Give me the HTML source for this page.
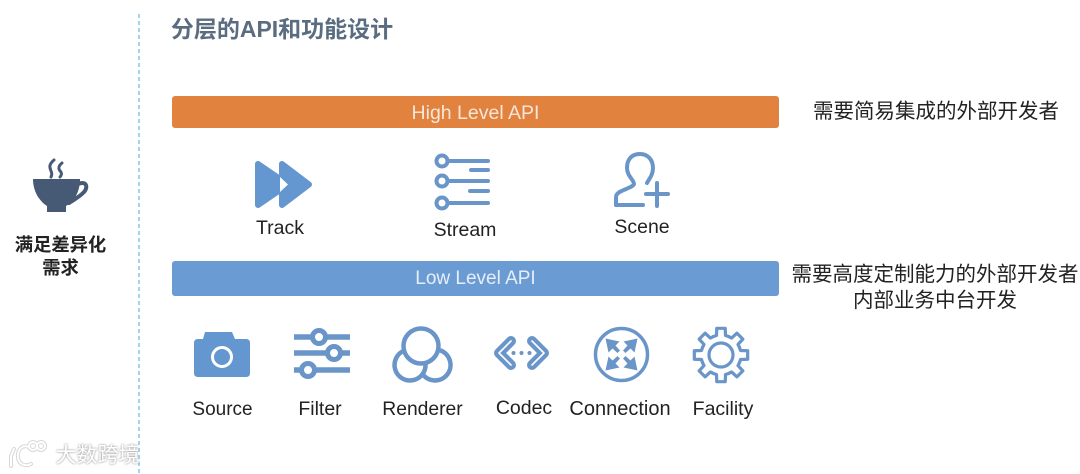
<!DOCTYPE html>
<html><head><meta charset="utf-8">
<style>
html,body{margin:0;padding:0;background:#fff}
#c{position:relative;width:1080px;height:474px;overflow:hidden;background:#fff;font-family:"Liberation Sans","Noto Sans CJK SC",sans-serif}
.t{position:absolute;white-space:nowrap;transform:translateX(-50%);line-height:1;color:#222}
.bar{position:absolute;left:172px;width:607px;border-radius:3px;color:#fff;text-align:center}
svg{position:absolute;left:0;top:0}
</style></head><body><div id="c">
<svg width="1080" height="474" viewBox="0 0 1080 474">
<line x1="139" y1="14" x2="139" y2="474" stroke="#a5d3ec" stroke-width="2" stroke-dasharray="4 3"/>
<!-- cup -->
<path d="M33 179H80C80 190 76 200 66 206V212H47V206C38 200 33 190 33 179Z" fill="#465a75"/>
<path d="M78 184C88 180 88 189 83 193C79 197 75 199 69 203" fill="none" stroke="#465a75" stroke-width="4" stroke-linecap="round"/>
<g fill="none" stroke="#465a75" stroke-width="3" stroke-linecap="round">
<path d="M54 160C48 165 50 168 51 171C52 173 52 175 51 177"/>
<path d="M62 163C57 167 59 170 61 172C62 174 61 176 60 177"/>
</g>
<!-- track -->
<g fill="#6497d0" stroke="#6497d0" stroke-width="6" stroke-linejoin="round">
<path d="M258 164V205L288 184.500Z"/>
<path d="M282 164V205L309 184.500Z"/>
</g>
<path d="M280 177L288 184.500L280 192Z" fill="#fff"/>
<!-- stream -->
<g fill="none" stroke="#6a95c9" stroke-width="4" stroke-linecap="round">
<circle cx="442" cy="161" r="5.500"/><circle cx="442" cy="181" r="5.500"/><circle cx="442" cy="203" r="5.500"/>
<path d="M448 161H488M471 170H488M448 181H488M470 191H488M448 203H488"/>
</g>
<!-- scene -->
<g fill="none" stroke="#6a95c9" stroke-width="4" stroke-linecap="round" stroke-linejoin="round">
<path d="M616 205V197C616 190 632 189 634 184C634 180 627 176 627 168C627 159 632 154 640 154C648 154 653 160 653 168C653 175 649 179 647 183"/>
<path d="M616 205H643M657 183V206M646 194H668"/>
</g>
<!-- source -->
<path d="M203 339L205 332H232L235 339H246Q250 339 250 343V373Q250 377 246 377H198Q194 377 194 373V343Q194 339 198 339Z" fill="#6497d0"/>
<circle cx="222" cy="357" r="9.500" fill="none" stroke="#fff" stroke-width="3"/>
<!-- filter -->
<g stroke="#6a95c9" stroke-width="5.500" fill="none">
<path d="M294 337H350M294 353H350M294 370H350"/>
<g stroke-width="5" fill="#fff"><circle cx="319" cy="337" r="6.500"/><circle cx="334" cy="353" r="6.500"/><circle cx="308" cy="370" r="6.500"/></g>
</g>
<!-- renderer -->
<g fill="none" stroke="#6a95c9" stroke-width="4.500">
<circle cx="421" cy="346" r="17.500"/>
<path d="M404 350.700A15.500 15.500 0 1 0 425.400 363"/>
<path d="M440 350.300A15.500 15.500 0 1 1 422 373.400"/>
</g>
<!-- codec -->
<g fill="none" stroke="#6a95c9" stroke-width="10" stroke-linecap="round" stroke-linejoin="round">
<path d="M511 341L499 353L511 365M532 341L544 353L532 365"/>
</g>
<g fill="none" stroke="#fff" stroke-width="1.600" stroke-linecap="round" stroke-linejoin="round">
<path d="M511 341L499 353L511 365M532 341L544 353L532 365"/>
</g>
<g fill="#6a95c9"><circle cx="513.500" cy="353" r="2"/><circle cx="521.500" cy="353" r="2"/><circle cx="529.500" cy="353" r="2"/></g>
<!-- connection -->
<circle cx="621.500" cy="354.500" r="26" fill="none" stroke="#6a95c9" stroke-width="3.500"/>
<g transform="translate(621.500 354.500)" fill="#6a95c9">
<path d="M-16 -16L-2 -13L-6 -9L-1.500 -4L-4 -1.500L-9 -6L-13 -2Z"/>
<path d="M-16 -16L-2 -13L-6 -9L-1.500 -4L-4 -1.500L-9 -6L-13 -2Z" transform="rotate(90)"/>
<path d="M-16 -16L-2 -13L-6 -9L-1.500 -4L-4 -1.500L-9 -6L-13 -2Z" transform="rotate(180)"/>
<path d="M-16 -16L-2 -13L-6 -9L-1.500 -4L-4 -1.500L-9 -6L-13 -2Z" transform="rotate(270)"/>
</g>
<!-- facility -->
<g transform="translate(721 355)" fill="none" stroke="#6a95c9" stroke-width="3.200" stroke-linejoin="round" stroke-linecap="round">
<circle r="12"/>
<path d="M-7.650 -18.480L-4.500 -19.490L-4.220 -26.670H4.220L4.500 -19.490L7.650 -18.480"/>
<path transform="rotate(45)" d="M-7.650 -18.480L-4.500 -19.490L-4.220 -26.670H4.220L4.500 -19.490L7.650 -18.480"/>
<path transform="rotate(90)" d="M-7.650 -18.480L-4.500 -19.490L-4.220 -26.670H4.220L4.500 -19.490L7.650 -18.480"/>
<path transform="rotate(135)" d="M-7.650 -18.480L-4.500 -19.490L-4.220 -26.670H4.220L4.500 -19.490L7.650 -18.480"/>
<path transform="rotate(180)" d="M-7.650 -18.480L-4.500 -19.490L-4.220 -26.670H4.220L4.500 -19.490L7.650 -18.480"/>
<path transform="rotate(225)" d="M-7.650 -18.480L-4.500 -19.490L-4.220 -26.670H4.220L4.500 -19.490L7.650 -18.480"/>
<path transform="rotate(270)" d="M-7.650 -18.480L-4.500 -19.490L-4.220 -26.670H4.220L4.500 -19.490L7.650 -18.480"/>
<path transform="rotate(315)" d="M-7.650 -18.480L-4.500 -19.490L-4.220 -26.670H4.220L4.500 -19.490L7.650 -18.480"/>
</g>
<!-- watermark -->
<g fill="none" stroke="#d8d8d8" stroke-width="4" stroke-linecap="round">
<path d="M14 449L11 456V466M29 447C21 444 17 451 18 458C19 464 25 467 31 464"/>
<circle cx="33" cy="446" r="4"/><circle cx="41" cy="446" r="4"/>
</g>
<g fill="none" stroke="#fff" stroke-width="2" stroke-linecap="round">
<path d="M14 449L11 456V466M29 447C21 444 17 451 18 458C19 464 25 467 31 464"/>
<circle cx="33" cy="446" r="4"/><circle cx="41" cy="446" r="4"/>
</g>
</svg>
<div class="t" style="left:282px;top:18px;font-size:23px;font-weight:bold;color:#5a6c80">分层的API和功能设计</div>
<div class="bar" style="top:96px;height:32px;line-height:34px;font-size:19.500px;background:#e2823f;color:#f6e6d8">High Level API</div>
<div class="bar" style="top:261px;height:35px;line-height:36px;font-size:19px;background:#6a9bd3;color:#e6eff8">Low Level API</div>
<div class="t" style="left:936px;top:102px;font-size:20.500px">需要简易集成的外部开发者</div>
<div class="t" style="left:935px;top:265px;font-size:20.500px">需要高度定制能力的外部开发者</div>
<div class="t" style="left:935px;top:291px;font-size:20.500px">内部业务中台开发</div>
<div class="t" style="left:60.500px;top:236px;font-size:18.300px;font-weight:bold">满足差异化</div>
<div class="t" style="left:60.500px;top:259px;font-size:18.300px;font-weight:bold">需求</div>
<div class="t" style="left:280px;top:219px;font-size:19.500px">Track</div>
<div class="t" style="left:465px;top:221px;font-size:19.500px">Stream</div>
<div class="t" style="left:642px;top:218px;font-size:19.500px">Scene</div>
<div class="t" style="left:222.500px;top:400px;font-size:19px">Source</div>
<div class="t" style="left:320px;top:400px;font-size:19.500px">Filter</div>
<div class="t" style="left:422.500px;top:400px;font-size:19.300px">Renderer</div>
<div class="t" style="left:524px;top:399px;font-size:19.500px">Codec</div>
<div class="t" style="left:620px;top:399px;font-size:20px">Connection</div>
<div class="t" style="left:723px;top:400px;font-size:19.500px">Facility</div>
<div class="t" style="left:97.500px;top:445px;font-size:21px;color:#fff;text-shadow:0 0 2px #aaa,0 0 2px #bbb">大数跨境</div>
</div></body></html>
